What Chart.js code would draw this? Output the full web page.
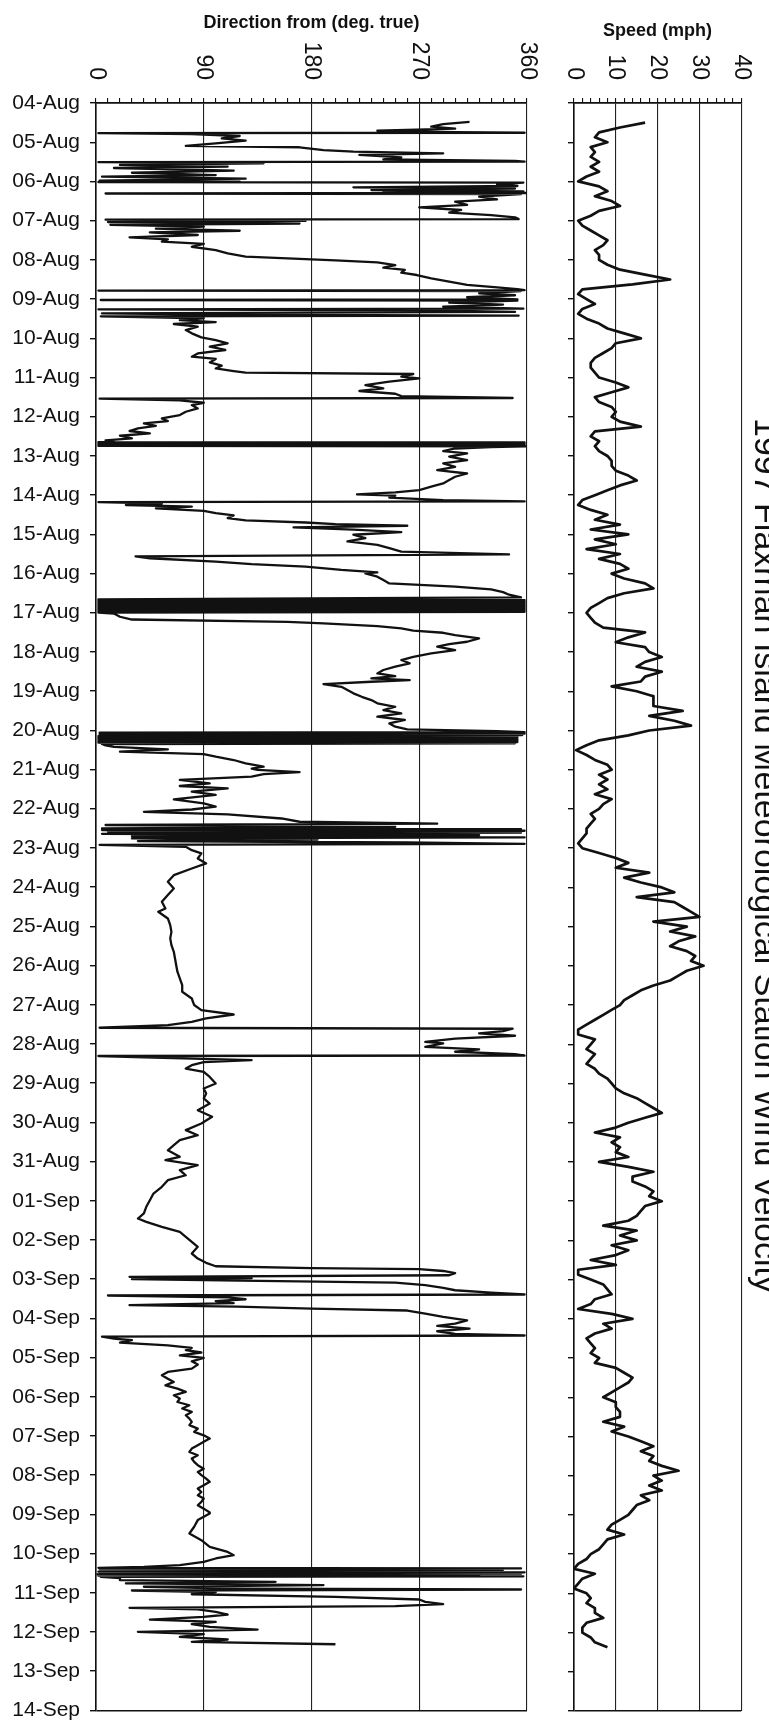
<!DOCTYPE html>
<html>
<head>
<meta charset="utf-8">
<title>1997 Flaxman Island Meteorological Station Wind Velocity</title>
<script src="https://cdn.jsdelivr.net/npm/chart.js@4.4.0/dist/chart.umd.min.js"></script>
<style>
  html, body { margin: 0; padding: 0; background: #fff; overflow: hidden; }
  #wrap { position: relative; width: 769px; height: 1733px; overflow: hidden; background: #fff; }
  #wrap canvas { position: absolute; left: 0; top: 0; }
</style>
</head>
<body>
<div id="wrap">
  <canvas id="directionChart" width="769" height="1733"></canvas>
  <canvas id="speedChart" width="785" height="1733"></canvas>
</div>
<script>
// Day labels on the time axis, one every 24 h from 04-Aug 00:00
const dateLabels = [
  '04-Aug', '05-Aug', '06-Aug', '07-Aug', '08-Aug', '09-Aug', '10-Aug', '11-Aug',
  '12-Aug', '13-Aug', '14-Aug', '15-Aug', '16-Aug', '17-Aug', '18-Aug', '19-Aug',
  '20-Aug', '21-Aug', '22-Aug', '23-Aug', '24-Aug', '25-Aug', '26-Aug', '27-Aug',
  '28-Aug', '29-Aug', '30-Aug', '31-Aug', '01-Sep', '02-Sep', '03-Sep', '04-Sep',
  '05-Sep', '06-Sep', '07-Sep', '08-Sep', '09-Sep', '10-Sep', '11-Sep', '12-Sep',
  '13-Sep', '14-Sep'
];

const directionTicks = [0, 90, 180, 270, 360];
const speedTicks = [0, 10, 20, 30, 40];

// Wind direction: [hours since 04-Aug 00:00, degrees true]
const directionLog = [
  // 04-Aug
  [11.5,312],[12.9,290],[14.5,280],[15.7,300],[16.9,235],[17.8,300],[18.2,358],[18.5,2],[19,80],[20.2,120],[21.6,105],[23,125],
  // 05-Aug
  [24.7,100],[26.3,75],[27.1,170],[28.8,190],[29.8,215],[30.8,290],[31.8,220],[33.3,255],[34.5,240],[35.5,350],[35.9,358],[36.2,2],
  [36.9,140],[37.9,20],[38.9,110],[39.8,15],[41.4,115],[42.7,30],[44.1,100],[45.1,5],[46.3,125],[47.6,3],
  // 06-Aug
  [48.1,120],[48.4,2],[48.7,357],[49.8,335],[50.8,352],[51.6,215],[52.4,350],[53.3,230],[54.1,357],[54.7,240],[55.1,359],[55.4,8],
  [55.8,355],[57.3,320],[59,335],[60.4,300],[62.4,310],[63.9,270],[65.5,305],[67.1,295],[68.6,330],[70,350],[71.1,353],
  // 07-Aug
  [71.4,8],[72.2,175],[72.9,10],[73.8,170],[74.6,12],[75.7,90],[76.9,50],[78.2,120],[79.2,45],[80.8,85],[82.2,28],[83.5,60],
  [84.9,55],[86.3,90],[88,80],[90,100],[92,110],[94,125],[95.3,165],
  // 08-Aug
  [96.3,200],[97.6,235],[99.2,250],[100.8,240],[102.2,258],[103.9,255],[105.3,268],[107.3,280],[109.4,295],[111.4,310],
  [112.9,335],[113.9,352],[114.5,358],[114.8,2],[115.1,355],[116.5,320],[117.7,350],[118.9,310],
  // 09-Aug
  [120.2,352],[120.6,4],[121,352],[122.2,295],[123.4,340],[124.7,290],[125.9,357],[126.3,2],[126.9,280],[127.9,350],[128.8,5],
  [129.6,110],[130.2,353],[130.6,4],[131.8,90],[132.9,70],[134.1,100],[135.3,65],[136.9,85],[139,75],[141,80],[143.5,88],
  // 10-Aug
  [145.1,100],[147.1,110],[149.2,95],[151.2,108],[153.3,85],[155.3,80],[156.7,100],[158.8,95],[160.8,105],[162.5,100],[164.1,115],[165.1,125],
  // 11-Aug
  [165.9,265],[167.5,255],[168.6,270],[170.6,245],[172.7,225],[174.7,240],[176.3,220],[178,250],[179.4,255],[180.6,348],[181,3],
  [182,70],[183.5,90],[184.9,80],[187,85],[189,75],
  // 12-Aug
  [191,70],[193.1,55],[194.7,60],[196.1,40],[197.6,50],[199.2,35],[200.8,28],[202.2,45],[203.7,20],[205.3,30],[206.5,8],[207.3,15],
  [207.6,2],[207.8,358],[208.3,2],[208.6,358],[209.1,2],[209.4,358],[209.9,2],[210.2,359],[210.6,330],
  // 13-Aug
  [211.5,300],[213.1,290],[214.5,310],[216.5,295],[218.6,310],[220.6,290],[222.7,300],[224.7,285],[226.8,310],[228.8,300],
  [230.8,295],[232.9,290],[234.9,280],[237,270],[238.4,250],[239.6,218],
  // 14-Aug
  [240.4,250],[241.6,245],[243.1,290],[243.9,358],[244.3,2],[245.3,55],[246.1,25],[247.1,80],[248.1,50],[249.7,90],[251.1,100],
  [252.5,115],[254.1,110],[255.5,125],[256.8,175],[257.8,200],[258.8,260],[259.8,165],[261.2,215],[262.7,255],
  // 15-Aug
  [264.3,215],[266.4,225],[268.4,210],[270.5,235],[272.5,245],[274.6,255],[276.3,345],[277.5,33],[278.7,45],[280.7,100],
  [282.3,130],[283.8,175],[285.8,205],[287.3,235],
  // 16-Aug
  [288,225],[290,235],[292,240],[294.1,245],[296.1,300],[297.8,330],[299.4,340],[301,345],[302.7,355],[303.9,2],
  [304.3,358],[304.7,2],[305.1,358],[305.5,2],[305.9,358],[306.3,2],[306.7,358],[307.1,2],[307.5,358],[307.9,2],
  [308.3,358],[308.7,2],[309.1,358],[309.5,2],[309.9,358],[310.3,2],[310.7,358],[311.1,2],[311.5,358],[311.9,2],
  // 17-Aug
  [312.5,15],[314.5,20],[316.2,30],[317.6,160],[318.6,190],[320.2,235],[321.6,255],[323,265],[324.3,290],[325.7,300],
  [327.7,320],[329.8,310],[331.2,295],[332.8,285],[334.9,300],
  // 18-Aug
  [336.9,280],[339,265],[341,255],[343,262],[345.1,250],[347.1,240],[349.2,235],[350.8,250],[352.2,230],[353.3,262],
  [354.3,230],[355.7,190],[357.4,205],[359.4,210],
  // 19-Aug
  [361.4,215],[363.5,222],[365.5,230],[367.5,235],[369.6,250],[371.6,240],[373.7,255],[375.7,235],[377.7,258],[379.8,245],
  [381.8,250],[383.5,260],
  // 20-Aug
  [384.5,335],[385.2,358],[385.5,3],[386.1,358],[386.5,3],[386.9,356],[387.6,2],[388,352],[388.4,2],[388.8,352],[389.2,2],
  [389.6,352],[390,2],[390.4,352],[390.8,2],[391.2,352],[391.6,2],[392,350],[392.4,5],[393.3,8],[394.1,15],[395.7,60],
  [397.1,20],[398.6,90],[400.2,100],[402.2,115],[404.3,125],[406.3,140],[407.5,130],
  // 21-Aug
  [408.3,135],[409.6,170],[410.8,140],[412.4,130],[414.4,70],[416.5,95],[418.1,70],[419.6,110],[421.6,80],[423.6,100],
  [426.3,65],[428.8,90],[430.8,100],
  // 22-Aug
  [432.5,80],[433.9,40],[435.5,110],[438,155],[440,170],[441.2,285],[442,8],[443.1,250],[444.1,5],[444.5,355],[445.1,5],
  [445.5,358],[446.1,10],[446.7,355],[447.4,5],[448.2,320],[448.8,30],[449.6,358],[450.2,30],[451,185],[451.8,35],[452.7,260],
  [453.5,358],[454.1,3],
  // 23-Aug
  [455.3,75],[457.4,80],[459.4,88],[462.5,85],[465.5,92],[468.6,80],[472.7,65],[476.7,60],
  // 24-Aug
  [480.8,65],[484.9,60],[489,55],[493.1,58],[495.1,52],[499.2,60],
  // 25-Aug
  [503.3,62],[507.4,63],[511.4,62],[515.5,63],[519.6,65],[523.7,66],
  // 26-Aug
  [527.8,67],[531.8,68],[535.9,70],[540,72],[544.1,72],
  // 27-Aug
  [548.2,80],[552.2,82],[555.3,88],[558,115],[560.4,92],[562.5,80],[564.5,60],[566.1,3],[566.7,348],[568.2,340],[569.6,320],[571,350],
  // 28-Aug
  [572.7,300],[574.7,275],[575.7,290],[577.8,275],[579.4,320],[580.8,300],[582.3,350],[583.1,358],[583.4,2],[584.3,40],
  [585.9,130],[587.2,90],[589,80],[591.1,75],[593.1,90],
  // 29-Aug
  [596.2,95],[600.2,100],[603.3,90],[606.4,92],[609.4,90],[612.5,95],[616.6,85],[620.6,97],
  // 30-Aug
  [624.7,88],[628.8,75],[631.9,85],[634.9,70],[638,65],[641.1,60],[645.1,70],
  // 31-Aug
  [647.2,58],[650.2,85],[653.3,70],[656.4,75],[659.4,60],[663.5,55],[667.6,48],
  // 01-Sep
  [671.7,45],[675.7,42],[679.8,40],[682.9,35],[684.9,42],[688,55],[691.1,70],[694.1,75],
  // 02-Sep
  [697.2,80],[700.2,85],[704.3,80],[707.4,85],[710,92],[712.1,100],[713.3,180],[713.9,270],[715,290],[716.3,300],[717.6,295],
  [718.6,28],[719.4,130],
  // 03-Sep
  [720,30],[720.9,120],[722.1,250],[723.7,275],[725.4,290],[726.8,300],[728.2,330],[729.4,358],[730,10],[731.1,110],
  [732.3,125],[733.5,100],[734.7,115],[735.9,28],[736.8,118],[738,180],[739.2,260],[741.1,275],
  // 04-Sep
  [743.1,290],[745.2,310],[747.2,300],[748.6,285],[750.3,312],[751.9,285],[753.5,300],[754.5,358],[755.2,5],[756.4,15],
  [757.4,30],[758.8,20],[760.5,60],[762.1,80],[763.5,75],[764.9,88],[766.6,70],
  // 05-Sep
  [768.2,90],[770.3,80],[772.3,85],[774.8,80],[776.8,60],[778.8,55],[780.9,60],[782.9,65],[785,58],[787,68],[789,75],
  // 06-Sep
  [791.1,65],[793.1,70],[795.2,68],[797.2,78],[799.2,72],[801.3,80],[803.3,75],[805.4,78],[807.4,80],[809.4,78],[811.5,85],[813.5,82],
  // 07-Sep
  [815.6,90],[817.6,95],[819.6,90],[821.7,85],[823.7,80],[825.8,78],[827.8,85],[829.8,80],[831.9,82],[833.9,85],[836,90],[838,85],
  // 08-Sep
  [840,88],[842.1,92],[844.1,95],[846.2,90],[848.2,85],[850.3,88],[852.3,85],[854.3,90],[856.4,88],[858.4,85],[860.5,90],[862.9,95],
  // 09-Sep
  [863.5,95],[867.5,85],[871.6,82],[875.7,78],[879.8,88],[883.9,95],
  // 10-Sep
  [887,110],[889,115],[891,100],[893.1,90],[895.1,70],[896.1,40],[896.7,2],[897.1,355],[897.5,3],[897.9,340],[898.3,5],
  [898.7,310],[899.1,2],[899.5,358],[899.9,3],[900.3,355],[900.7,1],[901.1,320],[901.5,2],[901.9,357],[902.3,4],[903,20],
  [904.3,20],[905.3,150],[906.3,25],[907.3,190],[908.3,40],[909.4,120],[910,355],[910.6,30],
  // 11-Sep
  [911.6,100],[912.9,80],[914.5,200],[916.1,270],[917.6,275],[919,290],[920.2,250],[921.2,28],[922.2,85],[923.7,100],
  [925.3,110],[926.7,90],[928.4,45],[929.8,100],[931.2,80],[932.9,95],[934.5,135],
  // 12-Sep
  [935.9,35],[937.3,90],[939,70],[940.6,110],[942,80],[943.5,200]
];

// Wind speed (mph), one reading every 3 h starting 04-Aug 12:00
const speedFirstHour = 12;
const speedStepHours = 3;
const speedMph = [
  17, 11, 6, 5,                       // 04-Aug
  8, 4, 5, 4, 6, 4, 6, 3,             // 05-Aug
  1, 6, 8, 5, 9, 11, 6, 4,            // 06-Aug
  1, 2, 4, 6, 8, 7, 5, 6,             // 07-Aug
  6, 8, 11, 17, 23, 14, 2, 1,         // 08-Aug
  3, 5, 2, 1, 3, 6, 8, 12,            // 09-Aug
  16, 10, 9, 7, 5, 4, 4, 5,           // 10-Aug
  6, 10, 13, 9, 5, 6, 9, 10,          // 11-Aug
  9, 11, 16, 5, 4, 6, 5, 6,           // 12-Aug
  8, 9, 9, 10, 13, 15, 11, 8,         // 13-Aug
  5, 2, 1, 4, 8, 5, 11, 4,            // 14-Aug
  13, 5, 10, 3, 11, 6, 11, 13,        // 15-Aug
  9, 12, 17, 19, 12, 8, 6, 4,         // 16-Aug
  3, 4, 5, 7, 17, 13, 10, 17,         // 17-Aug
  18, 21, 17, 15, 21, 17, 16, 9,      // 18-Aug
  15, 19, 19, 19, 26, 18, 24, 28,     // 19-Aug
  18, 13, 6, 3, 0.5, 3, 5, 8,         // 20-Aug
  9, 6, 8, 6, 8, 5, 9, 7,             // 21-Aug
  6, 4, 5, 4, 3, 3, 2, 1,             // 22-Aug
  2, 6, 10, 13, 10, 18, 12, 16,       // 23-Aug
  21, 24, 15, 24, 26, 28, 30, 19,     // 24-Aug
  27, 23, 29, 25, 23, 27, 29, 28,     // 25-Aug
  31, 27, 25, 23, 19, 16, 14, 12,     // 26-Aug
  11, 9, 7, 5, 3, 1, 1, 5,            // 27-Aug
  4, 3, 5, 4, 3, 5, 6, 8,             // 28-Aug
  9, 10, 12, 15, 17, 19, 21, 17,      // 29-Aug
  13, 10, 5, 11, 9, 11, 10, 13,       // 30-Aug
  6, 13, 19, 14, 14, 17, 19, 18,      // 31-Aug
  21, 17, 16, 15, 13, 7, 15, 11,      // 01-Sep
  15, 9, 13, 10, 4, 10, 1, 1,         // 02-Sep
  4, 7, 8, 9, 5, 4, 1, 9,             // 03-Sep
  14, 7, 9, 5, 3, 4, 5, 4,            // 04-Sep
  6, 5, 10, 12, 14, 13, 11, 9,        // 05-Sep
  7, 10, 10, 11, 11, 7, 12, 9,        // 06-Sep
  13, 16, 19, 16, 19, 18, 21, 25,     // 07-Sep
  19, 21, 18, 21, 16, 18, 15, 14,     // 08-Sep
  13, 11, 9, 8, 12, 8, 7, 6,          // 09-Sep
  4, 3, 1, 0, 5, 2, 1, 0,             // 10-Sep
  3, 4, 3, 5, 5, 7, 3, 2,             // 11-Sep
  2, 4, 5, 8                          // 12-Sep
];

const TOTAL_HOURS = (dateLabels.length - 1) * 24;
const FONT = "'Liberation Sans', Arial, Helvetica, sans-serif";
const INK = '#111';

// Top-axis numbers are printed turned a quarter turn clockwise,
// so they are placed here against the scale's own pixel positions.
const turnedTickLabels = {
  id: 'turnedTickLabels',
  afterDraw(chart, args, opts) {
    const scale = chart.scales.x;
    const ctx = chart.ctx;
    ctx.save();
    ctx.font = opts.size + 'px ' + FONT;
    ctx.fillStyle = INK;
    ctx.textAlign = 'right';
    ctx.textBaseline = 'middle';
    opts.values.forEach(v => {
      ctx.save();
      ctx.translate(scale.getPixelForValue(v), opts.bottom);
      ctx.rotate(Math.PI / 2);
      ctx.fillText(String(v), 0, 0);
      ctx.restore();
    });
    ctx.restore();
  }
};

// Only the first and last day get a horizontal rule (top axis and bottom frame)
function frameRuleColor(ctx) {
  const v = ctx.tick.value;
  return (v === 0 || v === TOTAL_HOURS) ? INK : 'rgba(0,0,0,0)';
}

function timeScale(width, showLabels) {
  return {
    type: 'linear',
    position: 'left',
    reverse: true,
    min: 0,
    max: TOTAL_HOURS,
    ticks: {
      display: showLabels,
      stepSize: 24,
      autoSkip: false,
      padding: 10,
      color: INK,
      font: { family: FONT, size: 21 },
      callback: v => dateLabels[Math.round(v / 24)]
    },
    grid: { color: frameRuleColor, tickColor: INK, tickLength: 6, lineWidth: 1.4 },
    border: { color: INK, width: 1.6 },
    afterFit: scale => { scale.width = width; }
  };
}

function valueScale(max, step, majorEvery, titleText, titleTop) {
  return {
    type: 'linear',
    position: 'top',
    min: 0,
    max: max,
    ticks: { display: false, stepSize: step },
    grid: {
      color: ctx => (ctx.tick.value % majorEvery === 0 ? '#222' : 'rgba(0,0,0,0)'),
      tickColor: INK,
      tickLength: 5,
      lineWidth: 1.1
    },
    border: { color: INK, width: 1.6 },
    title: {
      display: true,
      text: titleText,
      color: INK,
      font: { family: FONT, size: 18, weight: 'bold' },
      padding: { top: titleTop, bottom: 0 }
    },
    afterFit: scale => { scale.height = 103; }
  };
}

function traceStyle(width) {
  return {
    showLine: true,
    borderColor: INK,
    borderWidth: width,
    borderJoinStyle: 'round',
    pointRadius: 0,
    pointHoverRadius: 0,
    tension: 0
  };
}

new Chart(document.getElementById('directionChart'), {
  type: 'scatter',
  data: {
    datasets: [Object.assign({
      label: 'Direction from (deg. true)',
      data: directionLog.map(([h, deg]) => ({ x: deg, y: h }))
    }, traceStyle(2.3))]
  },
  options: {
    responsive: false,
    animation: false,
    layout: { padding: { left: 0, top: 0, right: 242, bottom: 22 } },
    plugins: {
      legend: { display: false },
      tooltip: { enabled: false },
      turnedTickLabels: { values: directionTicks, bottom: 80, size: 23 }
    },
    scales: {
      x: valueScale(360, 10, 90, 'Direction from (deg. true)', 12),
      y: timeScale(96, true)
    }
  },
  plugins: [turnedTickLabels]
});

new Chart(document.getElementById('speedChart'), {
  type: 'scatter',
  data: {
    datasets: [Object.assign({
      label: 'Speed (mph)',
      data: speedMph.map((v, i) => ({ x: v, y: speedFirstHour + i * speedStepHours }))
    }, traceStyle(2.7))]
  },
  options: {
    responsive: false,
    animation: false,
    layout: { padding: { left: 560, top: 0, right: 0, bottom: 22 } },
    plugins: {
      legend: { display: false },
      tooltip: { enabled: false },
      title: {
        display: true,
        position: 'right',
        text: '1997 Flaxman Island Meteorological Station Wind Velocity',
        color: INK,
        font: { family: FONT, size: 34, weight: 'normal' },
        padding: { top: 0, bottom: 3 }
      },
      turnedTickLabels: { values: speedTicks, bottom: 80, size: 23 }
    },
    scales: {
      x: valueScale(40, 2, 10, 'Speed (mph)', 20),
      y: timeScale(14, false)
    }
  },
  plugins: [turnedTickLabels]
});
</script>
</body>
</html>
